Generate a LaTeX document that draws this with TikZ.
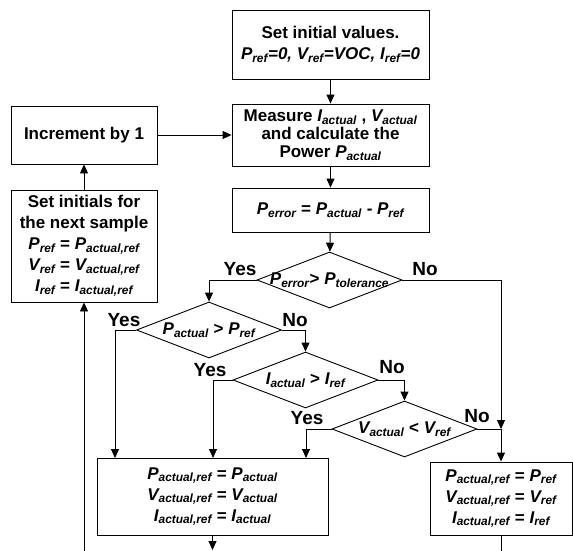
\documentclass[tikz,border=0pt]{standalone}
\usepackage{fontspec}
\setmainfont{Liberation Sans}
\usetikzlibrary{shapes.geometric,arrows.meta}
\newcommand{\sym}[2]{\textit{#1\textsubscript{#2}}}

\tikzset{
	box/.style={draw, line width=0.9pt, align=center, inner sep=1pt, font=\fontsize{17}{21}\selectfont\bfseries},
	decision/.style={draw, diamond, line width=0.9pt, minimum width=145pt, minimum height=56pt, inner sep=0pt, font=\fontsize{17}{21}\selectfont\bfseries},
	yesno/.style={inner sep=0pt, font=\fontsize{19}{22}\selectfont\bfseries},
	line/.style={line width=0.9pt},
	>={Triangle[length=9pt,width=8pt]}
}

\begin{document}
\begin{tikzpicture}[x=1pt, y=-1pt]
	\useasboundingbox (0,0) rectangle (573,551);
	
	%main column
	\node[box, minimum width=197pt, minimum height=69pt] (init) at (330.5,44.5)
		{Set initial values.\\\textit{P\textsubscript{ref}=0, V\textsubscript{ref}=VOC, I\textsubscript{ref}=0}};
	\node[box, minimum width=197pt, minimum height=62pt] (measure) at (330.5,135)
		{Measure \sym{I}{actual} , \sym{V}{actual}\\[-3pt]and calculate the\\[-3pt]Power \sym{P}{actual}};
	\node[box, minimum width=197pt, minimum height=44pt] (perr) at (330.5,210)
		{\sym{P}{error} = \sym{P}{actual} - \sym{P}{ref}};
	
	%left column
	\node[box, minimum width=146pt, minimum height=58pt] (inc) at (84,135) {Increment by 1};
	\node[box, minimum width=146pt, minimum height=112pt] (setinit) at (84,246)
		{Set initials for\\the next sample\\\sym{P}{ref} = \sym{P}{actual,ref}\\\sym{V}{ref} = \sym{V}{actual,ref}\\\sym{I}{ref} = \sym{I}{actual,ref}};
	
	%decisions
	\node[decision] (d1) at (329.5,280) {\makebox[0pt]{\sym{P}{error}> \sym{P}{tolerance}}};
	\node[decision] (d2) at (209,330) {\makebox[0pt]{\sym{P}{actual} > \sym{P}{ref}}};
	\node[decision] (d3) at (305.5,380) {\makebox[0pt]{\sym{I}{actual} > \sym{I}{ref}}};
	\node[decision] (d4) at (404.5,429) {\makebox[0pt]{\sym{V}{actual} < \sym{V}{ref}}};
	
	%results
	\node[box, minimum width=231pt, minimum height=77pt] (leftbox) at (212.5,496.5)
		{\sym{P}{actual,ref} = \sym{P}{actual}\\\sym{V}{actual,ref} = \sym{V}{actual}\\\sym{I}{actual,ref} = \sym{I}{actual}};
	\node[box, minimum width=142pt, minimum height=73pt] (rightbox) at (501,498.5)
		{\sym{P}{actual,ref} = \sym{P}{ref}\\\sym{V}{actual,ref} = \sym{V}{ref}\\\sym{I}{actual,ref} = \sym{I}{ref}};
	
	\coordinate (in1) at (115,458);
	\coordinate (in2) at (213,458);
	\coordinate (in3) at (306,458);
	\coordinate (jn) at (501,429);
	\coordinate (out1) at (212.5,550);
	\coordinate (out2) at (501,551);
	\coordinate (back) at (84,551);
	
	%yes/no labels
	\node[yesno] (y1) at (240,269) {Yes};
	\node[yesno] (n1) at (425,269) {No};
	\node[yesno] (y2) at (124,320) {Yes};
	\node[yesno] (n2) at (295,320) {No};
	\node[yesno] (y3) at (210,370) {Yes};
	\node[yesno] (n3) at (392,367) {No};
	\node[yesno] (y4) at (307,418) {Yes};
	\node[yesno] (n4) at (477,416) {No};
	
	%connectors
	\draw[line, ->] (init) -- (measure);
	\draw[line, ->] (measure) -- (perr);
	\draw[line, ->] (perr) -- (d1);
	\draw[line, ->] (inc) -- (measure);
	\draw[line, ->] (setinit) -- (inc);
	\draw[line, ->] (d1.west) -| (d2.north);
	\draw[line, ->] (d1.east) -| (jn);
	\draw[line, ->] (d2.west) -| (in1);
	\draw[line, ->] (d2.east) -| (d3.north);
	\draw[line, ->] (d3.west) -| (in2);
	\draw[line, ->] (d3.east) -| (d4.north);
	\draw[line, ->] (d4.west) -| (in3);
	\draw[line] (d4.east) -- (jn);
	\draw[line, ->] (jn) -- (rightbox);
	\draw[line, ->] (leftbox) -- (out1);
	\draw[line] (rightbox) -- (out2);
	\draw[line, ->] (back) -- (setinit);
\end{tikzpicture}
\end{document}
